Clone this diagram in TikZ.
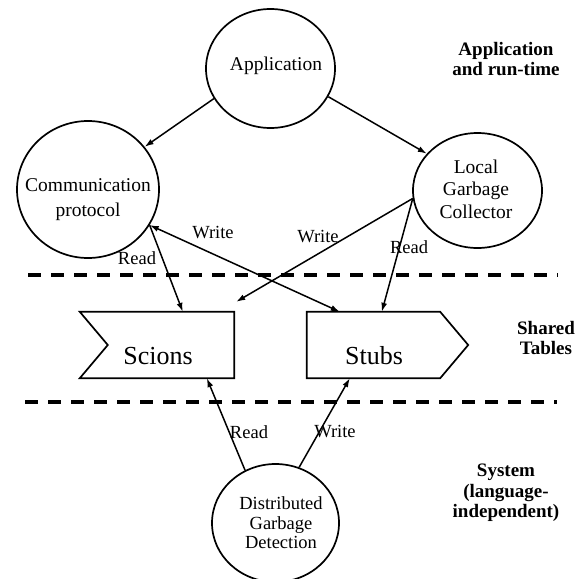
\documentclass[tikz,border=0pt]{standalone}
\usepackage{fontspec}
\setmainfont{Liberation Serif}
\usetikzlibrary{arrows.meta,calc,shapes.geometric}
\begin{document}
\begin{tikzpicture}[x=1pt,y=-1pt,
  oval/.style n args={2}{draw, ellipse, line width=1.7pt, inner sep=0pt, minimum width=#1, minimum height=#2},
  table/.style={inner sep=0pt, minimum width=#1, minimum height=66pt},
  outline/.style={line width=1.7pt, line join=miter},
  conn/.style={line width=1.5pt, -{Latex[length=9pt,width=6pt]}},
  sep/.style={line width=3.6pt, dash pattern=on 13pt off 10pt},
  lbl/.style={font=\fontsize{18.5}{22}\selectfont, inner sep=0pt},
  ctext/.style={font=\fontsize{19.5}{#1}\selectfont, align=center, inner sep=0pt},
  dtext/.style={font=\fontsize{18.5}{19.5}\selectfont, align=center, inner sep=0pt},
  side/.style={font=\fontsize{19}{20.5}\selectfont\bfseries, align=center, inner sep=0pt},
  big/.style={font=\fontsize{26}{30}\selectfont, inner sep=0pt}]
\useasboundingbox (0,0) rectangle (583,578);

% layer separators
\coordinate (s1a) at (28,275);
\coordinate (s1b) at (558,275);
\coordinate (s2a) at (25,402);
\coordinate (s2b) at (557,402);
\draw[sep] (s1a) -- (s1b);
\draw[sep] (s2a) -- (s2b);

% circles
\node[oval={129pt}{119pt}] (app) at (270.5,68.5) {};
\node[ctext=22] (appT) at (276,66) {Application};
\node[oval={142pt}{137pt}] (comm) at (88,189.5) {};
\node[ctext=25] (commT) at (88,200) {Communication\\protocol};
\node[oval={129pt}{115pt}] (lgc) at (477.5,190.5) {};
\node[ctext=22.5] (lgcT) at (476,189) {Local\\Garbage\\Collector};
\node[oval={127pt}{118pt}] (dgd) at (275.5,523) {};
\node[dtext] (dgdT) at (281,523) {Distributed\\Garbage\\Detection};

% shared tables
\node[table=154pt] (scions) at (157,345) {};
\draw[outline] (scions.north west) -- (scions.north east) -- (scions.south east)
  -- (scions.south west) -- ($(scions.west)+(28,0)$) -- cycle;
\node[big] (scionsT) at (158,356) {Scions};
\node[table=133pt] (stubs) at (373.5,345) {};
\draw[outline] (stubs.north west) -- (stubs.north east) -- ($(stubs.east)+(28,0)$)
  -- (stubs.south east) -- (stubs.south west) -- cycle;
\node[big] (stubsT) at (374,356) {Stubs};

% connectors
\draw[conn] (app.208) -- (comm.37);
\draw[conn] (app.334) -- (lgc.144);
\draw[conn] (comm.330) -- ($(scions.north west)+(103,0)$);
\draw[conn, {Latex[length=9pt,width=6pt]}-{Latex[length=9pt,width=6pt]}] (comm.330) -- ($(stubs.north west)+(33,0)$);
\draw[conn] (lgc.187) -- ($(scions.north east)+(2,-10)$);
\draw[conn] (lgc.187) -- ($(stubs.north west)+(75,0)$);
\draw[conn] (dgd.120) -- ($(scions.south west)+(127,0)$);
\draw[conn] (dgd.67.5) -- ($(stubs.south west)+(43,0)$);

% connector labels
\node[lbl] (l1) at (137,258) {Read};
\node[lbl] (l2) at (213,233) {Write};
\node[lbl] (l3) at (318,237) {Write};
\node[lbl] (l4) at (409,247) {Read};
\node[lbl] (l5) at (249,432) {Read};
\node[lbl] (l6) at (335,432) {Write};

% layer labels
\node[side] (layer1) at (506,59) {Application\\and run-time};
\node[side] (layer2) at (546,338) {Shared\\Tables};
\node[side] (layer3) at (506,493) {System\\(language-\\independent)};
\end{tikzpicture}
\end{document}
